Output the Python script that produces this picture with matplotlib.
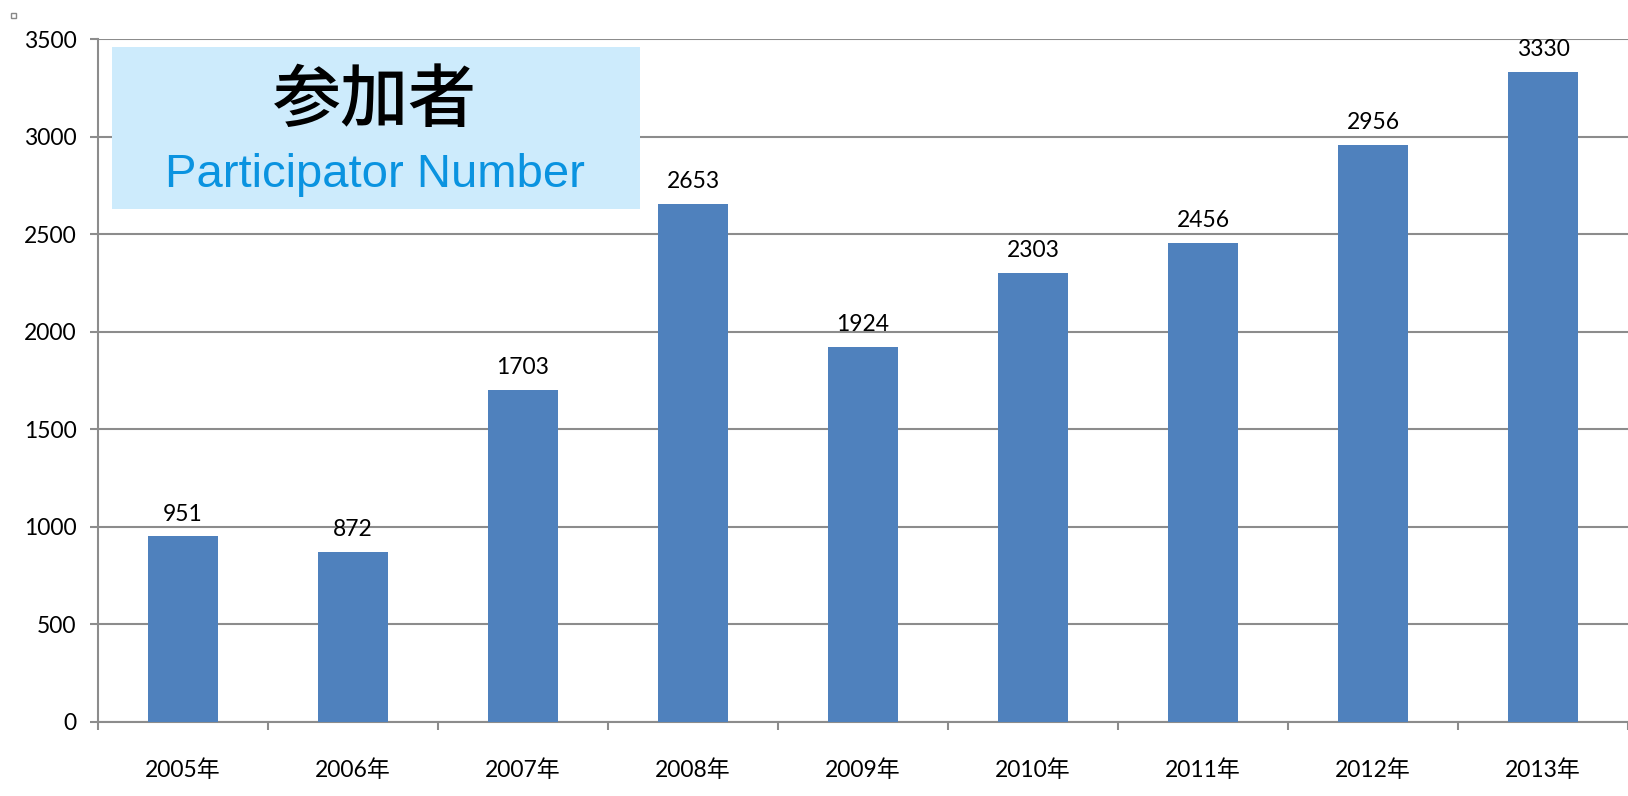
import matplotlib.pyplot as plt
import numpy as np
from matplotlib.patches import Rectangle

## 数据
years = ["2005年", "2006年", "2007年", "2008年", "2009年",
         "2010年", "2011年", "2012年", "2013年"]
participants = [951, 872, 1703, 2653, 1924, 2303, 2456, 2956, 3330]
yticks = [0, 500, 1000, 1500, 2000, 2500, 3000, 3500]

fonts = ["Lato", "Noto Sans CJK JP", "DejaVu Sans"]
plt.rcParams["font.family"] = fonts

W, H = 1628, 796
fig = plt.figure(figsize=(W / 100, H / 100), dpi=100)
fig.patch.set_facecolor("white")

## 坐标轴位置（像素换算）
left, right, top, bottom = 98, W, 39, 722
ax = fig.add_axes([left / W, 1 - bottom / H, (right - left) / W, (bottom - top) / H])

x = np.arange(len(years))
ax.bar(x, participants, width=0.41, color="#4f81bd", zorder=3)

gc = "#8c8c8c"
fs = 16.5
ax.set_ylim(0, 3500)
ax.set_xlim(-0.5, 8.43)
ax.set_yticks(yticks)
ax.set_yticklabels([str(v) for v in yticks])
ax.yaxis.grid(True, color=gc, linewidth=1.5, zorder=0)
ax.set_axisbelow(True)

ax.set_xticks(x)
ax.set_xticklabels(years)
ax.set_xticks(np.arange(-0.5, len(years)), minor=True)
ax.tick_params(axis="x", which="major", length=0, pad=27, labelsize=fs)
ax.tick_params(axis="x", which="minor", length=6, width=1.5, color=gc)
ax.tick_params(axis="y", length=6, width=1.5, color=gc, pad=9.5, labelsize=fs)

for s in ["top", "right"]:
    ax.spines[s].set_visible(False)
for s in ["left", "bottom"]:
    ax.spines[s].set_color(gc)
    ax.spines[s].set_linewidth(1.5)

## 数值标签
for xi, v in zip(x, participants):
    ax.annotate(str(v), (xi, v), xytext=(0, 8.5), textcoords="offset points",
                ha="center", va="bottom", fontsize=fs)

## 标题框
fig.patches.append(Rectangle((112 / W, 1 - 209 / H), (640 - 112) / W, (209 - 47) / H,
                             transform=fig.transFigure, facecolor="#cdebfc",
                             edgecolor="none", zorder=5))
fig.text(375 / W, 1 - 101 / H, "参加者", ha="center", va="center",
         fontsize=49, family=["Noto Sans CJK JP"], weight="medium", zorder=6)
fig.text(375 / W, 1 - 187 / H, "Participator Number", ha="center", va="baseline",
         fontsize=34, color="#0a93e0", family=["Liberation Sans"], zorder=6)

## 左上角小方块
fig.patches.append(Rectangle((11 / W, 1 - 18 / H), 5 / W, 5 / H,
                             transform=fig.transFigure, facecolor="white",
                             edgecolor="#888888", linewidth=1))

fig.savefig("out.png", dpi=100)
